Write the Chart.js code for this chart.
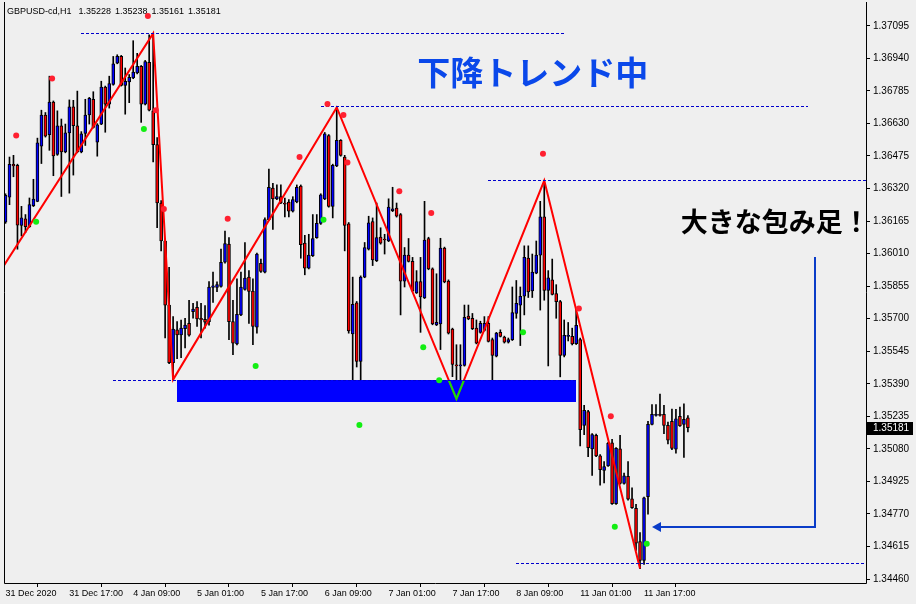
<!DOCTYPE html>
<html lang="ja">
<head>
<meta charset="utf-8">
<title>GBPUSD-cd,H1</title>
<script src="https://cdn.jsdelivr.net/npm/chart.js@4.4.1/dist/chart.umd.min.js"></script>
<style>
  html, body { margin: 0; padding: 0; background: #efefef; }
  canvas { display: block; }
</style>
</head>
<body>
<canvas id="chart" width="916" height="604"></canvas>
<script>
// ---- GBPUSD-cd, H1 bars (bar index 0 = 31 Dec 2020) ----
const symbolName = 'GBPUSD-cd,H1';

const barOpen = [
  1.36160,1.36279,1.36435,1.36431,1.36144,1.36176,1.36138,1.36238,1.36259,1.36522,
  1.36670,1.36576,1.36732,1.36482,1.36619,1.36494,1.36585,1.36709,1.36619,1.36494,
  1.36583,1.36670,1.36745,1.36541,1.36627,1.36803,1.36722,1.36816,1.36917,1.36949,
  1.36811,1.36828,1.36847,1.36870,1.36902,1.36722,1.36921,1.36690,1.36529,1.36251,
  1.36070,1.35765,1.35490,1.35647,1.35623,1.35652,1.35678,1.35733,1.35754,1.35702,
  1.35697,1.35686,1.35849,1.35849,1.35854,1.35969,1.36055,1.35686,1.35580,1.35718,
  1.35840,1.35898,1.35832,1.35660,1.35964,1.35922,1.36172,1.36322,1.36270,1.36282,
  1.36251,1.36256,1.36212,1.36256,1.36332,1.36060,1.35941,1.36000,1.36086,1.36154,
  1.36270,1.36572,1.36235,1.36428,1.36549,1.36470,1.36152,1.35628,1.35776,1.35496,
  1.35898,1.36031,1.36162,1.35976,1.36089,1.36078,1.36070,1.36215,1.36227,1.36196,
  1.35879,1.36003,1.35973,1.35823,1.35877,1.35799,1.36082,1.35937,1.35670,1.35675,
  1.36036,1.35879,1.35650,1.35479,1.35475,1.35477,1.35713,1.35702,1.35655,1.35635,
  1.35644,1.35678,1.35600,1.35522,1.35635,1.35613,1.35588,1.35600,1.35725,1.35765,
  1.35807,1.35989,1.35832,1.35917,1.36003,1.36185,1.35835,1.35885,1.35820,1.35781,
  1.35525,1.35616,1.35616,1.35581,1.35600,1.35192,1.35258,1.35080,1.35145,1.35047,
  1.34977,1.34999,1.35109,1.34819,1.35080,1.34915,1.34949,1.34842,1.34797,1.34639,
  1.34549,1.34852,1.35197,1.35239,1.35244,1.35244,1.35192,1.35211,1.35078,1.35235,
  1.35197,1.35228
];
const barHigh = [
  1.36295,1.36470,1.36478,1.36436,1.36235,1.36196,1.36275,1.36364,1.36560,1.36693,
  1.36682,1.36855,1.36737,1.36690,1.36651,1.36627,1.36742,1.36740,1.36784,1.36591,
  1.36745,1.36754,1.36781,1.36629,1.36831,1.36808,1.36855,1.36949,1.36957,1.36954,
  1.36894,1.36863,1.37024,1.36964,1.36906,1.36930,1.37052,1.37059,1.36563,1.36262,
  1.36078,1.35945,1.35710,1.35686,1.35694,1.35702,1.35788,1.35773,1.35781,1.35773,
  1.35763,1.35877,1.35922,1.35876,1.36031,1.36117,1.36086,1.35788,1.35890,1.35922,
  1.36063,1.35929,1.35890,1.36013,1.35984,1.36180,1.36412,1.36345,1.36337,1.36337,
  1.36275,1.36267,1.36281,1.36337,1.36337,1.36097,1.36102,1.36196,1.36196,1.36295,
  1.36587,1.36577,1.36436,1.36706,1.36553,1.36478,1.36158,1.35898,1.35782,1.35904,
  1.36063,1.36188,1.36180,1.36251,1.36133,1.36102,1.36271,1.36326,1.36251,1.36201,
  1.36039,1.36082,1.35992,1.35929,1.35992,1.36259,1.36088,1.35942,1.35914,1.36083,
  1.36041,1.35885,1.35655,1.35576,1.35576,1.35765,1.35765,1.35725,1.35694,1.35688,
  1.35710,1.35710,1.35608,1.35635,1.35647,1.35617,1.35608,1.35851,1.35882,1.35851,
  1.36047,1.36047,1.36008,1.36070,1.36259,1.36358,1.35929,1.35984,1.35862,1.35787,
  1.35694,1.35682,1.35655,1.35749,1.35608,1.35287,1.35264,1.35153,1.35151,1.35053,
  1.35020,1.35111,1.35125,1.35086,1.35145,1.34965,1.35020,1.34894,1.34816,1.34681,
  1.34850,1.35211,1.35291,1.35291,1.35341,1.35287,1.35208,1.35269,1.35268,1.35279,
  1.35294,1.35238
];
const barLow = [
  1.36154,1.36243,1.36376,1.36031,1.36094,1.36110,1.36135,1.36234,1.36257,1.36439,
  1.36565,1.36502,1.36381,1.36478,1.36282,1.36490,1.36298,1.36384,1.36490,1.36490,
  1.36525,1.36627,1.36608,1.36474,1.36624,1.36588,1.36703,1.36812,1.36914,1.36808,
  1.36674,1.36729,1.36843,1.36866,1.36635,1.36718,1.36690,1.36447,1.36133,1.36023,
  1.35608,1.35486,1.35410,1.35510,1.35514,1.35561,1.35617,1.35702,1.35663,1.35608,
  1.35655,1.35669,1.35777,1.35829,1.35850,1.35965,1.35600,1.35529,1.35575,1.35714,
  1.35836,1.35678,1.35576,1.35631,1.35921,1.35918,1.36168,1.36125,1.36267,1.36248,
  1.36185,1.36185,1.36208,1.36252,1.35988,1.35909,1.35937,1.35996,1.36083,1.36149,
  1.36267,1.36231,1.36180,1.36424,1.36474,1.36023,1.35631,1.35381,1.35470,1.35396,
  1.35895,1.36027,1.35953,1.35972,1.36055,1.36008,1.36067,1.36210,1.36184,1.35718,
  1.35851,1.35970,1.35829,1.35820,1.35635,1.35796,1.35933,1.35671,1.35667,1.35553,
  1.35871,1.35627,1.35424,1.35404,1.35405,1.35474,1.35695,1.35648,1.35580,1.35631,
  1.35641,1.35589,1.35381,1.35518,1.35613,1.35584,1.35584,1.35596,1.35702,1.35572,
  1.35718,1.35801,1.35801,1.35914,1.35741,1.35788,1.35475,1.35813,1.35702,1.35423,
  1.35518,1.35594,1.35575,1.35577,1.35094,1.35148,1.35043,1.34954,1.35043,1.34907,
  1.34918,1.34996,1.34815,1.34815,1.34912,1.34912,1.34836,1.34796,1.34596,1.34510,
  1.34530,1.34769,1.35194,1.35236,1.35236,1.35153,1.35104,1.35076,1.35059,1.35187,
  1.35039,1.35161
];
const barClose = [
  1.36287,1.36435,1.36428,1.36146,1.36180,1.36138,1.36243,1.36270,1.36538,1.36670,
  1.36569,1.36732,1.36475,1.36619,1.36494,1.36585,1.36709,1.36619,1.36494,1.36580,
  1.36670,1.36750,1.36611,1.36623,1.36803,1.36722,1.36820,1.36914,1.36949,1.36811,
  1.36831,1.36850,1.36874,1.36902,1.36722,1.36925,1.36693,1.36529,1.36251,1.36070,
  1.35765,1.35490,1.35650,1.35623,1.35655,1.35670,1.35621,1.35746,1.35699,1.35694,
  1.35683,1.35851,1.35856,1.35862,1.35969,1.36058,1.35686,1.35584,1.35721,1.35851,
  1.35893,1.35830,1.35663,1.36008,1.35925,1.36172,1.36326,1.36270,1.36282,1.36251,
  1.36246,1.36212,1.36267,1.36326,1.36052,1.35941,1.36003,1.36082,1.36154,1.36290,
  1.36580,1.36235,1.36431,1.36549,1.36478,1.36144,1.35642,1.35768,1.35496,1.35898,
  1.36039,1.36157,1.35980,1.36086,1.36060,1.36075,1.36232,1.36223,1.36188,1.35879,
  1.36003,1.35973,1.35832,1.35877,1.35804,1.36074,1.35937,1.35675,1.35683,1.36036,
  1.35875,1.35631,1.35482,1.35475,1.35477,1.35707,1.35699,1.35652,1.35584,1.35678,
  1.35678,1.35592,1.35525,1.35631,1.35616,1.35588,1.35600,1.35729,1.35773,1.35807,
  1.35992,1.35828,1.35922,1.36003,1.36185,1.35835,1.35895,1.35816,1.35781,1.35525,
  1.35621,1.35621,1.35580,1.35668,1.35172,1.35263,1.35086,1.35148,1.35047,1.34981,
  1.34996,1.35106,1.34819,1.35082,1.34915,1.34952,1.34840,1.34800,1.34631,1.34549,
  1.34847,1.35197,1.35244,1.35244,1.35239,1.35192,1.35122,1.35082,1.35223,1.35189,
  1.35221,1.35181
];

// time axis: a label every 16 bars
const timeTickBars = [0, 16, 32, 48, 64, 80, 96, 112, 128, 144, 160];
const timeLabels = ['31 Dec 2020', '31 Dec 17:00', '4 Jan 09:00', '5 Jan 01:00', '5 Jan 17:00',
  '6 Jan 09:00', '7 Jan 01:00', '7 Jan 17:00', '8 Jan 09:00', '11 Jan 01:00', '11 Jan 17:00'];

// price axis labels
const priceTicks = [1.37095, 1.36940, 1.36785, 1.36630, 1.36475, 1.36320, 1.36165, 1.36010,
  1.35855, 1.35700, 1.35545, 1.35390, 1.35235, 1.35080, 1.34925, 1.34770, 1.34615, 1.34460];

// ZigZag swing points (bar, price); the first one lies just before the window
const zigzagBars = [-1, 37, 42, 83, 113, 135, 159];
const zigzagPrices = [1.35935, 1.37059, 1.35410, 1.36706, 1.35318, 1.36358, 1.34510];

// fractal markers
const upFractalBars = [2, 11, 35, 37, 39, 55, 73, 80, 84, 85, 98, 106, 134, 143, 151];
const upFractalPrices = [1.36572, 1.36844, 1.37142, 1.36693, 1.36223, 1.36176, 1.36470, 1.36722,
  1.36670, 1.36444, 1.36307, 1.36204, 1.36486, 1.35748, 1.35235];
const downFractalBars = [7, 34, 62, 79, 88, 104, 108, 129, 152, 160];
const downFractalPrices = [1.36162, 1.36604, 1.35475, 1.36171, 1.35194, 1.35564, 1.35407, 1.35635,
  1.34709, 1.34628];

// horizontal levels (price, first bar, last bar)
const levelPrices = [1.37059, 1.36713, 1.36358, 1.35408, 1.34535];
const levelFromBars = [19, 79, 121, 27, 128];
const levelToBars = [140, 201, 216, 143, 216];

// support zone
const zoneBars = [43, 143];
const zonePrices = [1.35408, 1.35302];

// callout arrow: (bar, price) corners, ending at the engulfing bar
const arrowBars = [202.9, 202.9, 161.9];
const arrowPrices = [1.35994, 1.34706, 1.34706];

// chart notes
const trendNote = '下降トレンド中';
const trendNoteAt = [132.1, 1.36873];
const candleNote = '大きな包み足！';
const candleNoteAt = [169.2, 1.36163];

// ---- drawing ----
const UI_FONT = '"Liberation Sans", Arial, sans-serif';
const JP_FONT = '"Noto Sans CJK JP", "Noto Sans CJK SC", sans-serif';
const BULL = '#0000ff';
const BEAR = '#ff0000';
const LEVEL_COLOR = '#0000cc';
const FRACTAL_SHIFT = 0.68;
const PX_PER_BAR = 4;

const bodyColors = barOpen.map((o, i) => barClose[i] > o ? BULL : (barClose[i] < o ? BEAR : '#000000'));
const lastBar = barClose.length - 1;

function crisp(v) { return Math.floor(v) + 0.5; }

function drawLevels(chart) {
  const { ctx, scales: { x, y } } = chart;
  const area = chart.chartArea;
  ctx.save();
  ctx.beginPath();
  ctx.rect(area.left, area.top, area.right - area.left, area.bottom - area.top);
  ctx.clip();
  ctx.strokeStyle = LEVEL_COLOR;
  ctx.lineWidth = 1;
  ctx.setLineDash([3, 2]);
  levelPrices.forEach((p, k) => {
    const py = crisp(y.getPixelForValue(p));
    ctx.beginPath();
    ctx.moveTo(Math.round(x.getPixelForValue(levelFromBars[k])), py);
    ctx.lineTo(Math.round(x.getPixelForValue(levelToBars[k])), py);
    ctx.stroke();
  });
  ctx.restore();
}

function zoneRect(chart) {
  const { x, y } = chart.scales;
  const x0 = Math.round(x.getPixelForValue(zoneBars[0]) - 0.5);
  const x1 = Math.round(x.getPixelForValue(zoneBars[1]) - 0.5);
  const y0 = Math.round(y.getPixelForValue(zonePrices[0]));
  const y1 = Math.round(y.getPixelForValue(zonePrices[1]));
  return { x0, x1, y0, y1 };
}

const chartDecor = {
  id: 'chartDecor',
  beforeDraw(chart) {
    const { ctx, width, height } = chart;
    ctx.save();
    ctx.fillStyle = '#efefef';
    ctx.fillRect(0, 0, width, height);
    ctx.restore();
  },
  beforeDatasetsDraw(chart) {
    const ctx = chart.ctx;
    ctx.save();
    ctx.font = '9px ' + UI_FONT;
    ctx.fillStyle = '#000';
    ctx.textBaseline = 'alphabetic';
    let tx = 7;
    ctx.fillText(symbolName, tx, 14);
    tx += ctx.measureText(symbolName).width + 7;
    [barOpen[lastBar], barHigh[lastBar], barLow[lastBar], barClose[lastBar]].forEach(v => {
      const s = v.toFixed(5);
      ctx.fillText(s, tx, 14);
      tx += ctx.measureText(s).width + 4;
    });
    ctx.restore();
  },
  afterDatasetDraw(chart, args) {
    const ds = chart.data.datasets[args.index];
    const ctx = chart.ctx;
    if (ds.label === 'bodies') {
      const r = zoneRect(chart);
      ctx.save();
      ctx.fillStyle = '#0000ff';
      ctx.fillRect(r.x0, r.y0, r.x1 - r.x0, r.y1 - r.y0);
      ctx.restore();
    }
    if (ds.label === 'zigzag') {
      // the part of the swing line inside the zone shows in green
      const r = zoneRect(chart);
      const pts = chart.getDatasetMeta(args.index).data;
      ctx.save();
      ctx.beginPath();
      ctx.rect(r.x0, r.y0, r.x1 - r.x0, r.y1 - r.y0);
      ctx.clip();
      ctx.beginPath();
      pts.forEach((p, k) => (k ? ctx.lineTo(p.x, p.y) : ctx.moveTo(p.x, p.y)));
      ctx.strokeStyle = '#10e010';
      ctx.lineWidth = 2;
      ctx.stroke();
      ctx.restore();
      drawLevels(chart);
    }
  },
  afterDatasetsDraw(chart) {
    const { ctx, scales: { x, y } } = chart;
    // callout arrow
    const ax = arrowBars.map(b => Math.round(x.getPixelForValue(b)));
    const ay = arrowPrices.map(p => Math.round(y.getPixelForValue(p)));
    ctx.save();
    ctx.strokeStyle = '#0a3cc8';
    ctx.fillStyle = '#0a3cc8';
    ctx.lineWidth = 2;
    ctx.beginPath();
    ctx.moveTo(ax[0], ay[0]);
    ctx.lineTo(ax[1], ay[1]);
    ctx.lineTo(ax[2] + 7, ay[2]);
    ctx.stroke();
    ctx.beginPath();
    ctx.moveTo(ax[2], ay[2]);
    ctx.lineTo(ax[2] + 9, ay[2] - 5);
    ctx.lineTo(ax[2] + 9, ay[2] + 5);
    ctx.closePath();
    ctx.fill();
    ctx.restore();

    // notes
    ctx.save();
    ctx.font = 'bold 33px ' + JP_FONT;
    ctx.fillStyle = '#0a48ea';
    ctx.textAlign = 'center';
    ctx.textBaseline = 'middle';
    ctx.fillText(trendNote, x.getPixelForValue(trendNoteAt[0]), y.getPixelForValue(trendNoteAt[1]));
    ctx.font = 'bold 27px ' + JP_FONT;
    ctx.fillStyle = '#000';
    ctx.textAlign = 'left';
    ctx.fillText(candleNote, x.getPixelForValue(candleNoteAt[0]), y.getPixelForValue(candleNoteAt[1]));
    ctx.restore();
  },
  afterDraw(chart) {
    const { ctx, chartArea: a, scales: { y } } = chart;
    ctx.save();
    ctx.strokeStyle = '#000';
    ctx.lineWidth = 1;
    ctx.beginPath();
    ctx.moveTo(a.left + 0.5, 2);
    ctx.lineTo(a.left + 0.5, a.bottom + 0.5);
    ctx.lineTo(a.right + 0.5, a.bottom + 0.5);
    ctx.lineTo(a.right + 0.5, 2);
    ctx.stroke();
    // last price tag
    const py = Math.round(y.getPixelForValue(barClose[lastBar]));
    ctx.fillStyle = '#000';
    ctx.fillRect(a.right + 1, py - 6, 46, 13);
    ctx.fillStyle = '#fff';
    ctx.font = '10px ' + UI_FONT;
    ctx.textBaseline = 'middle';
    ctx.fillText(barClose[lastBar].toFixed(5), a.right + 7, py + 0.5);
    ctx.restore();
  }
};

new Chart(document.getElementById('chart'), {
  type: 'bar',
  data: {
    datasets: [
      {
        label: 'wicks',
        data: barLow.map((l, i) => ({ x: i, y: [l, barHigh[i]] })),
        backgroundColor: '#000000',
        barThickness: 1,
        grouped: false,
        minBarLength: 1,
        order: 10
      },
      {
        label: 'bodies',
        data: barOpen.map((o, i) => ({ x: i, y: [o, barClose[i]] })),
        backgroundColor: bodyColors,
        borderColor: '#000000',
        borderWidth: 1,
        borderSkipped: false,
        barThickness: 3,
        grouped: false,
        minBarLength: 1,
        order: 9
      },
      {
        type: 'line',
        label: 'zigzag',
        data: zigzagBars.map((b, k) => ({ x: b, y: zigzagPrices[k] })),
        borderColor: '#ff0000',
        borderWidth: 2,
        pointRadius: 0,
        tension: 0,
        order: 5
      },
      {
        type: 'line',
        label: 'up fractals',
        data: upFractalBars.map((b, k) => ({ x: b + FRACTAL_SHIFT, y: upFractalPrices[k] })),
        showLine: false,
        pointRadius: 3,
        pointBorderWidth: 0,
        pointBackgroundColor: '#ff2030',
        order: 2
      },
      {
        type: 'line',
        label: 'down fractals',
        data: downFractalBars.map((b, k) => ({ x: b + FRACTAL_SHIFT, y: downFractalPrices[k] })),
        showLine: false,
        pointRadius: 3,
        pointBorderWidth: 0,
        pointBackgroundColor: '#12ee12',
        order: 1
      }
    ]
  },
  options: {
    responsive: false,
    maintainAspectRatio: false,
    devicePixelRatio: 1,
    animation: false,
    events: [],
    layout: { padding: { left: 2, top: 2, right: 0, bottom: 0 } },
    plugins: { legend: { display: false }, tooltip: { enabled: false } },
    scales: {
      x: {
        type: 'linear',
        position: 'bottom',
        min: -0.375,
        max: -0.375 + 864 / PX_PER_BAR,
        offset: false,
        border: { display: false },
        grid: { drawOnChartArea: false, drawTicks: true, tickLength: 4, color: '#000', lineWidth: 1 },
        afterBuildTicks: s => { s.ticks = timeTickBars.map(v => ({ value: v })); },
        afterFit: s => { s.height = 21; },
        ticks: {
          autoSkip: false, maxRotation: 0, minRotation: 0, align: 'start', padding: 1,
          color: '#000', font: { family: UI_FONT, size: 9 },
          callback: (v, i) => timeLabels[i]
        }
      },
      y: {
        type: 'linear',
        position: 'right',
        min: 1.344412,
        max: 1.37175,
        border: { display: false },
        grid: { drawOnChartArea: false, drawTicks: true, tickLength: 4, color: '#000', lineWidth: 1 },
        afterBuildTicks: s => { s.ticks = priceTicks.map(v => ({ value: v })); },
        afterFit: s => { s.width = 50; },
        ticks: {
          autoSkip: false, padding: 3, color: '#000', font: { family: UI_FONT, size: 10 },
          callback: v => Number(v).toFixed(5)
        }
      }
    }
  },
  plugins: [chartDecor]
});
</script>
</body>
</html>
